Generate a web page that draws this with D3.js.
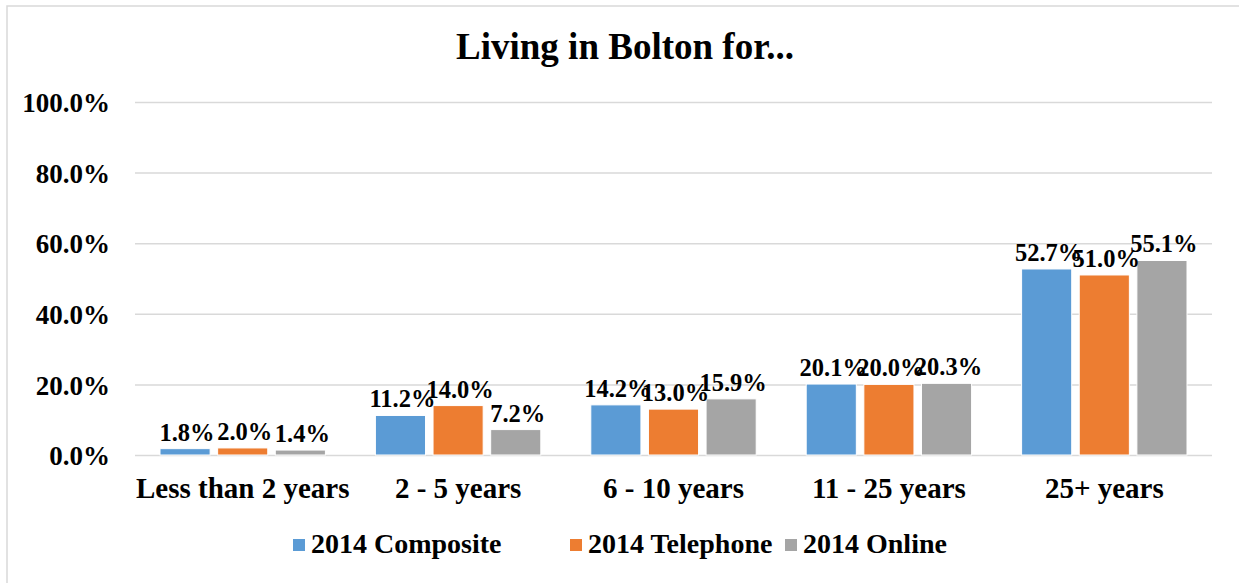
<!DOCTYPE html>
<html><head><meta charset="utf-8">
<script src="https://cdn.jsdelivr.net/npm/d3@7"></script>
<style>
html,body{margin:0;padding:0;background:#fff;}
svg text{font-family:"Liberation Serif","Times New Roman",serif;font-weight:bold;fill:#000;}
</style></head>
<body>
<svg id="chart" width="1239" height="583"></svg>
<script>
const title = "Living in Bolton for...";
const categories = ["Less than 2 years", "2 - 5 years", "6 - 10 years", "11 - 25 years", "25+ years"];
const seriesNames = ["2014 Composite", "2014 Telephone", "2014 Online"];
const seriesColors = ["#5B9BD5", "#ED7D31", "#A5A5A5"];
const composite = [1.8, 11.2, 14.2, 20.1, 52.7];
const telephone = [2.0, 14.0, 13.0, 20.0, 51.0];
const online = [1.4, 7.2, 15.9, 20.3, 55.1];
const yTicks = [0, 20, 40, 60, 80, 100];

const seriesValues = [composite, telephone, online];

const svg = d3.select("#chart");

// outer border (left + top visible)
svg.append("rect").attr("x", 7).attr("y", 6).attr("width", 1300).attr("height", 700)
  .attr("fill", "none").attr("stroke", "#d9d9d9").attr("stroke-width", 1.5);

const x0 = d3.scaleBand().domain(categories).range([135, 1212]).padding(0);
const groupPad = 25;
const x1 = d3.scaleBand().domain(seriesNames)
  .range([groupPad, x0.bandwidth() - groupPad]).paddingInner(0.1304).paddingOuter(0);
const y = d3.scaleLinear().domain([0, 100]).range([455, 102]);

// gridlines + y tick labels
const yAxis = d3.axisLeft(y).tickValues(yTicks).tickSize(-(1212 - 135)).tickFormat(d => d.toFixed(1) + "%");
const gy = svg.append("g").attr("transform", "translate(135,0)").call(yAxis);
gy.select(".domain").remove();
gy.selectAll(".tick line").attr("stroke", "#d9d9d9").attr("stroke-width", 1.5);
gy.selectAll(".tick text").style("font-size", "27px").attr("dy", "0.36em").attr("x", -25);

// title
svg.append("text").attr("x", 625).attr("y", 59).attr("text-anchor", "middle")
  .style("font-size", "37px").text(title);

// bars
const groups = svg.append("g").selectAll("g").data(categories).join("g")
  .attr("transform", d => `translate(${x0(d)},0)`);

groups.selectAll("rect").data((c, i) => seriesNames.map((s, j) => ({s, j, v: seriesValues[j][i]})))
  .join("rect")
  .attr("x", d => x1(d.s)).attr("width", x1.bandwidth())
  .attr("y", d => y(d.v)).attr("height", d => y(0) - y(d.v))
  .attr("fill", d => seriesColors[d.j]).attr("stroke", "#fff").attr("stroke-width", 1);

groups.selectAll("text.lbl").data((c, i) => seriesNames.map((s, j) => ({s, j, v: seriesValues[j][i]})))
  .join("text").attr("class", "lbl")
  .attr("x", d => x1(d.s) + x1.bandwidth() / 2 + 2)
  .attr("y", d => y(d.v) - 8)
  .attr("text-anchor", "middle").style("font-size", "24.5px")
  .text(d => d.v.toFixed(1) + "%");

// category axis labels
svg.append("g").selectAll("text").data(categories).join("text")
  .attr("x", d => x0(d) + x0.bandwidth() / 2).attr("y", 498)
  .attr("text-anchor", "middle").style("font-size", "29px").text(d => d);

// legend
const legendX = [293, 570, 785];
const leg = svg.append("g").selectAll("g").data(seriesNames).join("g")
  .attr("transform", (d, i) => `translate(${legendX[i]},539)`);
leg.append("rect").attr("width", 12).attr("height", 12).attr("fill", (d, i) => seriesColors[i]);
leg.append("text").attr("x", 18).attr("y", 14).style("font-size", "28px").text(d => d);
</script>
</body></html>
